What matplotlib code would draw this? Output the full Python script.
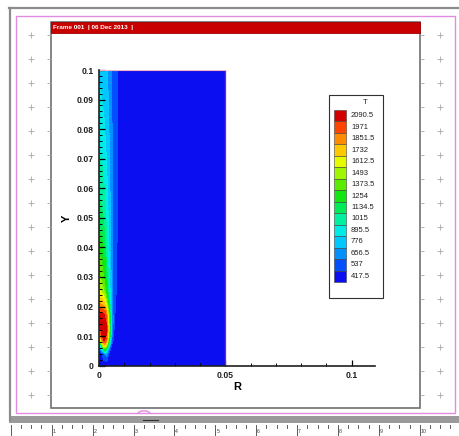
import numpy as np
import matplotlib
matplotlib.use('Agg')
import matplotlib.pyplot as plt
from matplotlib.colors import ListedColormap
from matplotlib.patches import Rectangle
from matplotlib.ticker import FixedLocator, MultipleLocator, FuncFormatter

plt.rcParams['font.family'] = ['Liberation Sans', 'DejaVu Sans']

# contour levels of T, lowest first, with the colour of the band above each level
levels = [417.5, 537, 656.5, 776, 895.5, 1015, 1134.5, 1254, 1373.5,
          1493, 1612.5, 1732, 1851.5, 1971, 2090.5]
level_labels = ['417.5', '537', '656.5', '776', '895.5', '1015', '1134.5', '1254',
                '1373.5', '1493', '1612.5', '1732', '1851.5', '1971', '2090.5']
level_colors = ['#0a0ef0', '#0050ff', '#0090ff', '#00c8ff', '#00ebe6', '#00f0a0',
                '#00eb5a', '#14e614', '#5aeb00', '#a0f500', '#e6fa00', '#ffc800',
                '#ff8c00', '#ff4600', '#d20000']

# temperature (rows = Y, columns = R)
r_pts = [0, 0.001, 0.002, 0.003, 0.004, 0.005, 0.006, 0.008, 0.05]
y_pts = [0, 0.004, 0.006, 0.008, 0.01, 0.012, 0.015, 0.018, 0.02,
         0.025, 0.03, 0.04, 0.05, 0.06, 0.07, 0.08, 0.09, 0.1]
T = [
    [450, 450, 450, 450, 450, 450, 450, 450, 450],
    [480, 520, 650, 720, 520, 455, 450, 450, 450],
    [560, 950, 1500, 1300, 700, 470, 450, 450, 450],
    [850, 1700, 2050, 1900, 1100, 600, 460, 450, 450],
    [1450, 2050, 2200, 2050, 1400, 700, 490, 455, 450],
    [1850, 2150, 2200, 2100, 1500, 800, 520, 460, 450],
    [2100, 2200, 2200, 2050, 1450, 800, 540, 470, 450],
    [2050, 2100, 2050, 1900, 1350, 780, 550, 475, 450],
    [1900, 1900, 1850, 1650, 1200, 760, 560, 480, 450],
    [1650, 1600, 1500, 1300, 1000, 730, 570, 485, 450],
    [1500, 1450, 1350, 1200, 950, 730, 580, 490, 450],
    [1330, 1300, 1200, 1050, 880, 710, 590, 495, 450],
    [1200, 1170, 1100, 980, 850, 700, 590, 500, 450],
    [1100, 1080, 1020, 930, 820, 690, 590, 500, 450],
    [1030, 1010, 960, 890, 790, 680, 590, 500, 450],
    [960, 950, 910, 850, 770, 670, 590, 500, 450],
    [920, 900, 870, 820, 750, 660, 590, 500, 450],
    [880, 870, 840, 810, 730, 650, 590, 500, 450],
]

y_ticks = [0, 0.01, 0.02, 0.03, 0.04, 0.05, 0.06, 0.07, 0.08, 0.09, 0.1]
x_ticks = [0, 0.05, 0.1]
ruler_numbers = [1, 2, 3, 4, 5, 6, 7, 8, 9, 10]

fig = plt.figure(figsize=(4.59, 4.36), dpi=100)
fig.patch.set_facecolor('white')

# page decoration in pixel coordinates
deco = fig.add_axes([0, 0, 1, 1], zorder=0)
deco.set_xlim(0, 459)
deco.set_ylim(436, 0)
deco.axis('off')

deco.plot([9, 459], [8, 8], color='#8c8c8c', lw=1.6)
deco.plot([9.5, 9.5], [8, 420], color='#8c8c8c', lw=1.6)
deco.add_patch(Rectangle((16, 16), 439, 397, fill=False, ec='#e08ce0', lw=1.0))
deco.plot([138, 141, 147, 150], [413, 411, 411, 413], color='#e08ce0', lw=1.0)
deco.add_patch(Rectangle((51, 22), 369, 386, fill=False, ec='#707070', lw=1.2))
deco.add_patch(Rectangle((51, 22), 369, 11, fc='#c80000', ec='#a00000', lw=0.6))
deco.text(53, 28, 'Frame 001  | 06 Dec 2013  |', color='white', fontsize=4.6,
          fontweight='bold', va='center', ha='left')

cross_y = np.arange(35, 400, 24)
deco.plot(np.full(len(cross_y), 31), cross_y, '+', color='#a8a8a8', ms=5, mew=0.6)
deco.plot(np.full(len(cross_y), 440), cross_y, '+', color='#a8a8a8', ms=5, mew=0.6)
deco.hlines(cross_y, 47, 51, color='#a8a8a8', lw=0.6)
deco.hlines(cross_y, 420, 424, color='#a8a8a8', lw=0.6)

# ruler at the bottom
deco.add_patch(Rectangle((9, 416), 450, 7, fc='#9a9a9a', ec='none'))
deco.plot([143, 158], [420, 420], color='#303030', lw=0.8)
deco.add_patch(Rectangle((10, 423), 449, 13, fc='white', ec='none'))
for k in range(0, 46):
    x = 10.8 + k * 40.9 / 4
    if x > 459:
        break
    if k % 4 == 0:
        deco.plot([x, x], [425, 436], color='#404040', lw=0.6)
    else:
        deco.plot([x, x], [425, 427.5], color='#404040', lw=0.6)
for n in ruler_numbers:
    deco.text(10.8 + n * 40.9 + 1, 431, str(n), fontsize=3.8, color='#404040',
              va='center', ha='left')

# contour plot
ax = fig.add_axes([99 / 459, (436 - 365.7) / 436, 276 / 459, 295.7 / 436], zorder=2)
ax.set_facecolor('none')
cmap = ListedColormap(level_colors[:-1])
cmap.set_over(level_colors[-1])
cmap.set_under('#0000b4')
ax.contourf(r_pts, y_pts, np.array(T), levels=levels, cmap=cmap, extend='both')
ax.plot([0.05, 0.05], [0, 0.1], color='#9020a0', lw=0.9)
ax.plot([0, 0.05], [0.1, 0.1], color='#f0b0c0', lw=0.8)

ax.set_xlim(0, 0.1092)
ax.set_ylim(0, 0.1)
ax.spines['top'].set_visible(False)
ax.spines['right'].set_visible(False)
ax.spines['left'].set_bounds(0, 0.1)
for s in ('left', 'bottom'):
    ax.spines[s].set_linewidth(1.2)
    ax.spines[s].set_color('#202020')

fmt = FuncFormatter(lambda v, p: f'{v:g}')
ax.yaxis.set_major_locator(FixedLocator(y_ticks))
ax.yaxis.set_minor_locator(MultipleLocator(0.002))
ax.xaxis.set_major_locator(FixedLocator(x_ticks))
ax.xaxis.set_minor_locator(FixedLocator([0.01, 0.02, 0.03, 0.04, 0.06, 0.07, 0.08, 0.09]))
ax.yaxis.set_major_formatter(fmt)
ax.xaxis.set_major_formatter(fmt)
ax.tick_params(which='major', direction='in', length=4.5, width=0.9, labelsize=6.2, pad=4)
ax.tick_params(which='minor', direction='in', length=2.3, width=0.7)
for lab in ax.get_xticklabels() + ax.get_yticklabels():
    lab.set_fontweight('bold')
    lab.set_color('#202020')
ax.set_xlabel('R', fontsize=8, fontweight='bold', labelpad=1.5)
ax.set_ylabel('Y', fontsize=8, fontweight='bold', labelpad=3)

# legend box
leg = fig.add_axes([0, 0, 1, 1], zorder=3)
leg.set_xlim(0, 459)
leg.set_ylim(436, 0)
leg.axis('off')
leg.add_patch(Rectangle((329, 95), 54, 203, fc='white', ec='#303030', lw=0.8))
leg.text(365, 102, 'T', fontsize=5.5, ha='center', va='center', color='#202020')
top, bot = 110, 282
h = (bot - top) / len(levels)
for i in range(len(levels)):
    j = len(levels) - 1 - i
    y0 = top + i * h
    leg.add_patch(Rectangle((334, y0), 12, h, fc=level_colors[j], ec='#404040', lw=0.4))
    leg.text(351, y0 + h / 2, level_labels[j], fontsize=5.5, ha='left', va='center',
             color='#202020')

fig.savefig('out.png', dpi=100)
